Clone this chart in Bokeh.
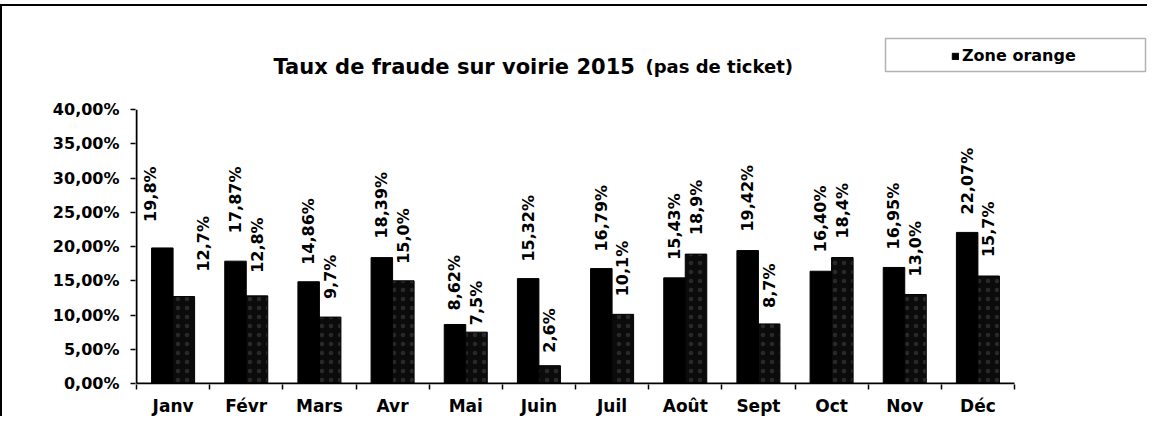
import math
import numpy as np
from bokeh.plotting import figure
from bokeh.models import (Range1d, FixedTicker, ColumnDataSource, Legend, LegendItem,
                          Label, BoxAnnotation)
from bokeh.core.properties import value
from bokeh.embed import file_html
from bokeh.resources import INLINE

# ---------------- data ----------------
months = ["Janv", "Févr", "Mars", "Avr", "Mai", "Juin",
          "Juil", "Août", "Sept", "Oct", "Nov", "Déc"]
zone_orange = [19.8, 17.87, 14.86, 18.39, 8.62, 15.32,
               16.79, 15.43, 19.42, 16.40, 16.95, 22.07]
zone_orange_labels = ["19,8%", "17,87%", "14,86%", "18,39%", "8,62%", "15,32%",
                      "16,79%", "15,43%", "19,42%", "16,40%", "16,95%", "22,07%"]
zone_2 = [12.7, 12.8, 9.7, 15.0, 7.5, 2.6,
          10.1, 18.9, 8.7, 18.4, 13.0, 15.7]
zone_2_labels = ["12,7%", "12,8%", "9,7%", "15,0%", "7,5%", "2,6%",
                 "10,1%", "18,9%", "8,7%", "18,4%", "13,0%", "15,7%"]
y_ticks = [0, 5, 10, 15, 20, 25, 30, 35, 40]
y_tick_labels = ["0,00%", "5,00%", "10,00%", "15,00%", "20,00%",
                 "25,00%", "30,00%", "35,00%", "40,00%"]
title_main = "Taux de fraude sur voirie 2015"
title_sub = "(pas de ticket)"
legend_label = "Zone orange"

# ---------------- layout / style ----------------
FONT = "DejaVu Sans"
BAR_W = 0.294
DODGE = BAR_W / 2
PX_X = 73.17            # pixels per category
PX_Y = 268 / 40         # pixels per percent
Y_BOT = -1 / PX_Y
Y_TOP = 369 / PX_Y      # frame reaches the top so title / legend fit inside
X0 = -0.5 - 1 / PX_X
X1 = 11.5 + 135 / PX_X  # frame reaches the right edge so the legend fits inside

# label nudges in screen pixels (dx: horizontal, dy: gap above the bar)
lab1_dx = [-12, 0, 0, 0, 0, 0, 0, 0, 0, 0, 0, 0]
lab2_dx = [20, 0, 0, 0, 0, 0, 0, 0, 0, 0, 0, 0]
lab1_dy = [26, 28, 17, 19, 14, 17, 17, 18, 19, 19, 18, 18]
lab2_dy = [25, 23, 18, 17, 7, 13, 18, 19, 16, 19, 18, 19]

idx = np.arange(len(months))
src1 = ColumnDataSource(dict(x=idx - DODGE, top=zone_orange, lab=zone_orange_labels,
                             dx=lab1_dx, dy=[-d for d in lab1_dy]))
src2 = ColumnDataSource(dict(x=idx + DODGE, top=zone_2, lab=zone_2_labels,
                             dx=lab2_dx, dy=[-d for d in lab2_dy]))

p = figure(width=1147, height=412,
           x_range=Range1d(X0, X1), y_range=Range1d(Y_BOT, Y_TOP),
           output_backend="svg", toolbar_location=None,
           min_border_left=133, min_border_right=0,
           min_border_top=0, min_border_bottom=30)
p.outline_line_color = None
p.xgrid.visible = False
p.ygrid.visible = False
p.background_fill_color = "white"
p.border_fill_color = "white"
p.styles = {"border-top": "2px solid #000000", "border-left": "2px solid #000000",
            "position": "relative", "top": "4px"}

# bars
r1 = p.vbar(x="x", top="top", width=BAR_W, bottom=0, source=src1,
            fill_color="#000000", line_color="#000000", line_width=1)
r2 = p.vbar(x="x", top="top", width=BAR_W, bottom=0, source=src2,
            fill_color="#0b0b0b", line_color="#000000", line_width=1,
            hatch_pattern="dot", hatch_color="#a0a0a0", hatch_scale=9,
            hatch_weight=1, hatch_alpha=0.2)

# axis lines limited to the plotted span (0-40 %, Janv-Déc)
p.segment(x0=[-0.5], y0=[y_ticks[0]], x1=[-0.5], y1=[y_ticks[-1]],
          line_color="#000000", line_width=2)
p.segment(x0=[-0.5], y0=[0], x1=[len(months) - 0.5], y1=[0],
          line_color="#000000", line_width=2)

# data labels (rotated)
for s in (src1, src2):
    p.text(x="x", y="top", text="lab", source=s, angle=math.pi / 2,
           x_offset="dx", y_offset="dy",
           text_align="left", text_baseline="middle",
           text_font=value(FONT), text_font_style="bold",
           text_font_size="16px", text_color="#000000")

# x axis: labels at centres, tick marks at category boundaries
xa = p.xaxis[0]
xa.ticker = FixedTicker(ticks=list(idx),
                        minor_ticks=[i - 0.5 for i in range(len(months) + 1)])
xa.major_label_overrides = {int(i): m for i, m in zip(idx, months)}
xa.major_tick_out = 0
xa.major_tick_in = 0
xa.major_tick_line_color = None
xa.minor_tick_out = 5
xa.minor_tick_in = 0
xa.minor_tick_line_color = "#000000"
xa.minor_tick_line_width = 1.5
xa.axis_line_color = None
xa.major_label_standoff = 6
xa.major_label_text_font = FONT
xa.major_label_text_font_style = "bold"
xa.major_label_text_font_size = "17px"
xa.major_label_text_color = "#000000"

# y axis
ya = p.yaxis[0]
ya.ticker = FixedTicker(ticks=y_ticks)
ya.major_label_overrides = {t: l for t, l in zip(y_ticks, y_tick_labels)}
ya.major_tick_out = 5
ya.major_tick_in = 0
ya.major_tick_line_color = "#000000"
ya.major_tick_line_width = 1.5
ya.minor_tick_line_color = None
ya.axis_line_color = None
ya.major_label_standoff = 11
ya.major_label_text_font = FONT
ya.major_label_text_font_style = "bold"
ya.major_label_text_font_size = "16px"
ya.major_label_text_color = "#000000"

# title (two parts, different sizes) - screen units from frame bottom-left
p.add_layout(Label(x=138, y=318, x_units="screen", y_units="screen", text=title_main,
                   text_font=FONT, text_font_style="bold", text_font_size="21px",
                   text_align="left", text_baseline="alphabetic", text_color="#000000"))
p.add_layout(Label(x=510, y=318, x_units="screen", y_units="screen", text=title_sub,
                   text_font=FONT, text_font_style="bold", text_font_size="18px",
                   text_align="left", text_baseline="alphabetic", text_color="#000000"))

# legend box + legend
p.add_layout(BoxAnnotation(left=750, right=1010, bottom=313, top=346,
                           left_units="screen", right_units="screen",
                           top_units="screen", bottom_units="screen",
                           fill_alpha=0, line_color="#000000", line_width=1.5))
legend = Legend(items=[LegendItem(label=legend_label, renderers=[r1])],
                location=(816, 319), border_line_color=None, background_fill_alpha=0,
                glyph_width=8, glyph_height=8, label_standoff=3, padding=0, margin=0,
                label_text_font=FONT, label_text_font_style="bold",
                label_text_font_size="16px", label_text_color="#000000")
p.add_layout(legend)

open("out.html", "w").write(file_html(p, INLINE))
